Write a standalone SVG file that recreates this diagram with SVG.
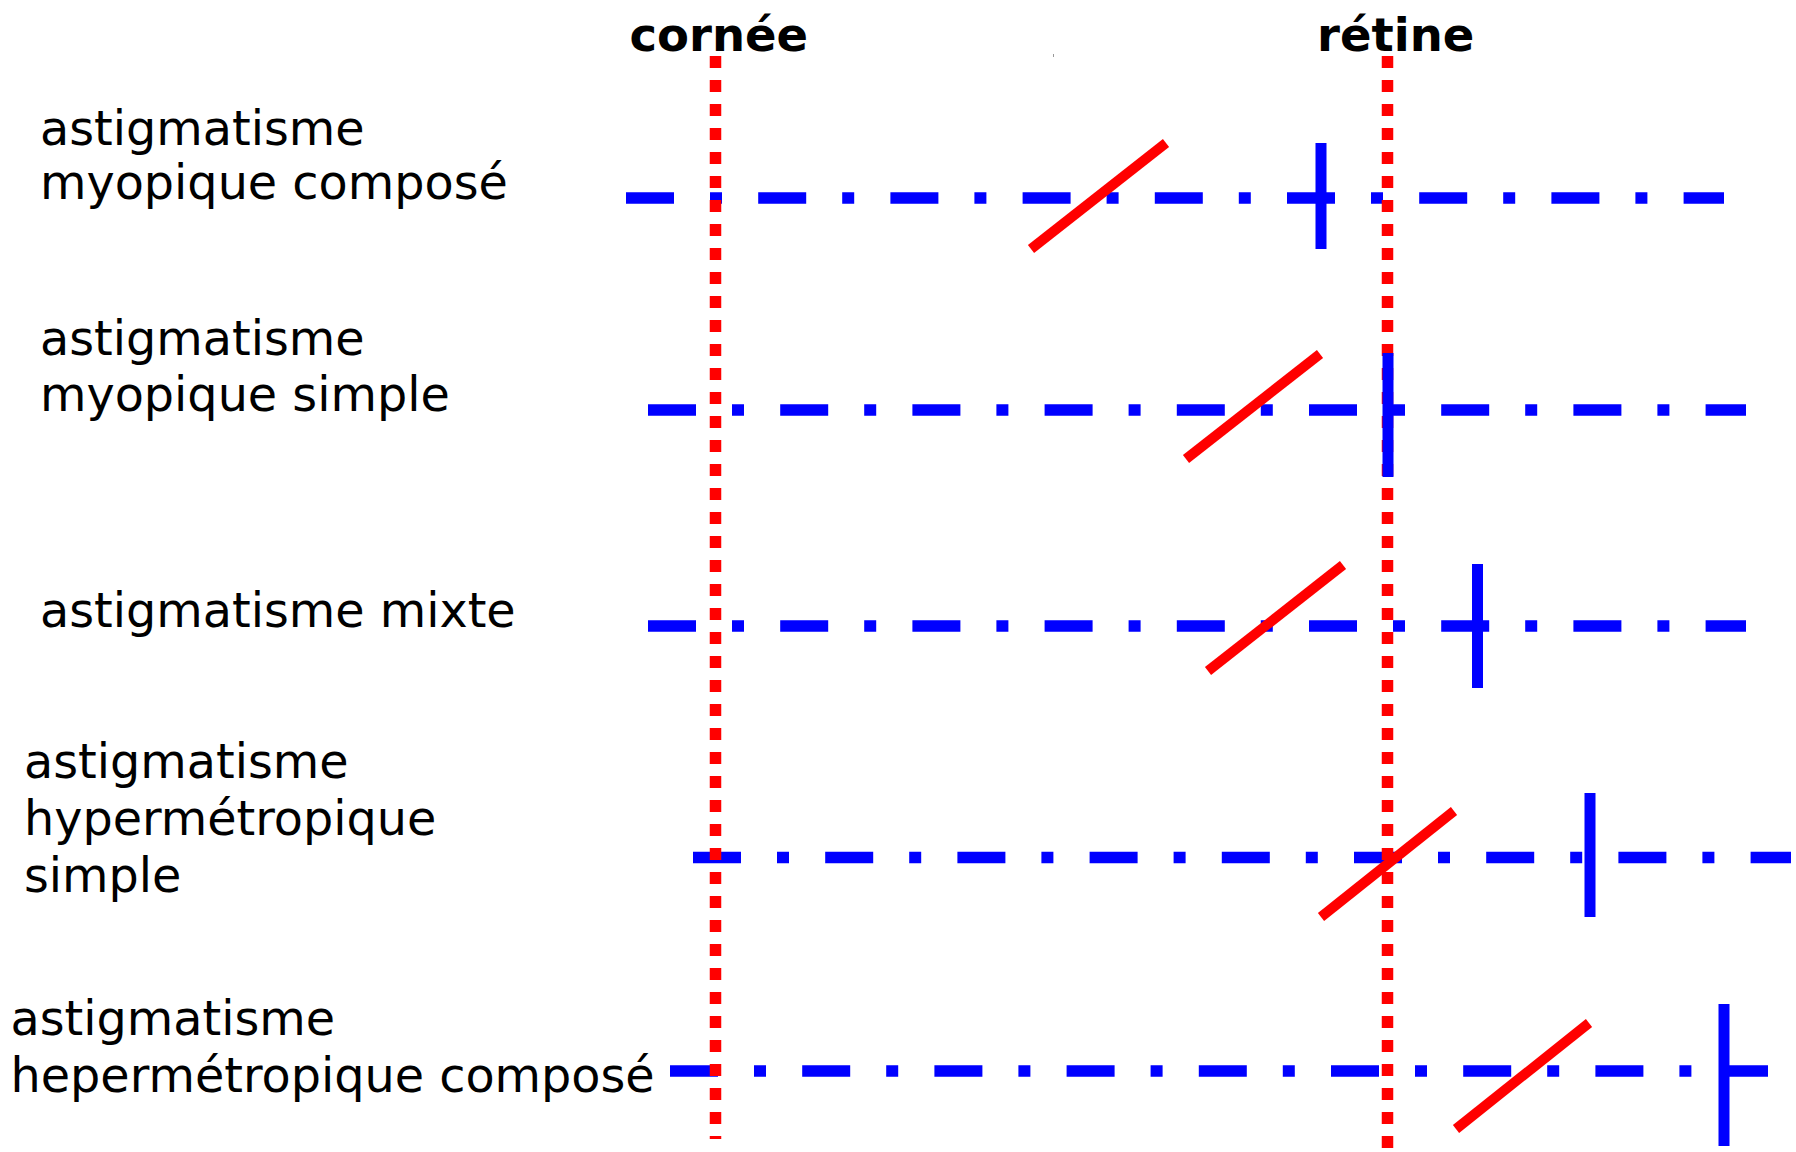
<svg xmlns="http://www.w3.org/2000/svg" width="1796" height="1152" viewBox="0 0 1796 1152">
  <style>
    .lbl { font-family: "DejaVu Sans", Verdana, sans-serif; font-size: 47.7px; fill: #000; }
    .ttl { font-family: "DejaVu Sans", Verdana, sans-serif; font-size: 46.5px; font-weight: bold; fill: #000; }
    .axis { stroke: #0000ff; stroke-width: 11.5; fill: none; stroke-dasharray: 48 36 12 36.2; }
    .tick { stroke: #0000ff; stroke-width: 11; fill: none; }
    .plane { stroke: #ff0000; stroke-width: 11.5; fill: none; stroke-dasharray: 12 12; }
    .focal { stroke: #ff0000; stroke-width: 10; fill: none; }
  </style>
  <rect width="1796" height="1152" fill="#ffffff"/>

  <g id="titles">
    <text id="title-cornee" class="ttl" x="629.5" y="51">cornée</text>
    <text id="title-retine" class="ttl" x="1317" y="51">rétine</text>
  </g>

  <g id="labels">
    <text id="label-1" class="lbl"><tspan x="40" y="145">astigmatisme</tspan><tspan x="40" y="199">myopique composé</tspan></text>
    <text id="label-2" class="lbl"><tspan x="40" y="355">astigmatisme</tspan><tspan x="40" y="411">myopique simple</tspan></text>
    <text id="label-3" class="lbl" x="40" y="627">astigmatisme mixte</text>
    <text id="label-4" class="lbl"><tspan x="24" y="778">astigmatisme</tspan><tspan x="24" y="835">hypermétropique</tspan><tspan x="24" y="892">simple</tspan></text>
    <text id="label-5" class="lbl"><tspan x="10.5" y="1035">astigmatisme</tspan><tspan x="10.5" y="1092">hepermétropique composé</tspan></text>
  </g>

  <g id="connectors">
    <g id="axes">
      <line class="axis" x1="626" y1="198" x2="1724" y2="198"/>
      <line class="axis" x1="648" y1="410" x2="1746" y2="410"/>
      <line class="axis" x1="648" y1="626" x2="1746" y2="626"/>
      <line class="axis" x1="693" y1="857.5" x2="1791" y2="857.5"/>
      <line class="axis" x1="670" y1="1071" x2="1768" y2="1071"/>
    </g>
    <g id="planes">
      <line id="cornea" class="plane" x1="715.5" y1="56" x2="715.5" y2="1139"/>
      <line id="retina" class="plane" x1="1387.5" y1="56" x2="1387.5" y2="1148"/>
    </g>
    <g id="ticks">
      <line class="tick" x1="1321" y1="143" x2="1321" y2="249"/>
      <line class="tick" x1="1388" y1="353" x2="1388" y2="477"/>
      <line class="tick" x1="1477.5" y1="564" x2="1477.5" y2="688"/>
      <line class="tick" x1="1590" y1="793" x2="1590" y2="917"/>
      <line class="tick" x1="1724" y1="1004" x2="1724" y2="1146"/>
    </g>
    <g id="focals">
      <line class="focal" x1="1031" y1="249" x2="1166" y2="143"/>
      <line class="focal" x1="1186" y1="459" x2="1320" y2="354"/>
      <line class="focal" x1="1208" y1="671" x2="1343" y2="565"/>
      <line class="focal" x1="1321" y1="917" x2="1454" y2="811"/>
      <line class="focal" x1="1456" y1="1129" x2="1589" y2="1023"/>
    </g>
  </g>

  <rect id="speck" x="1053" y="54" width="1" height="3" fill="#999999"/>
</svg>
